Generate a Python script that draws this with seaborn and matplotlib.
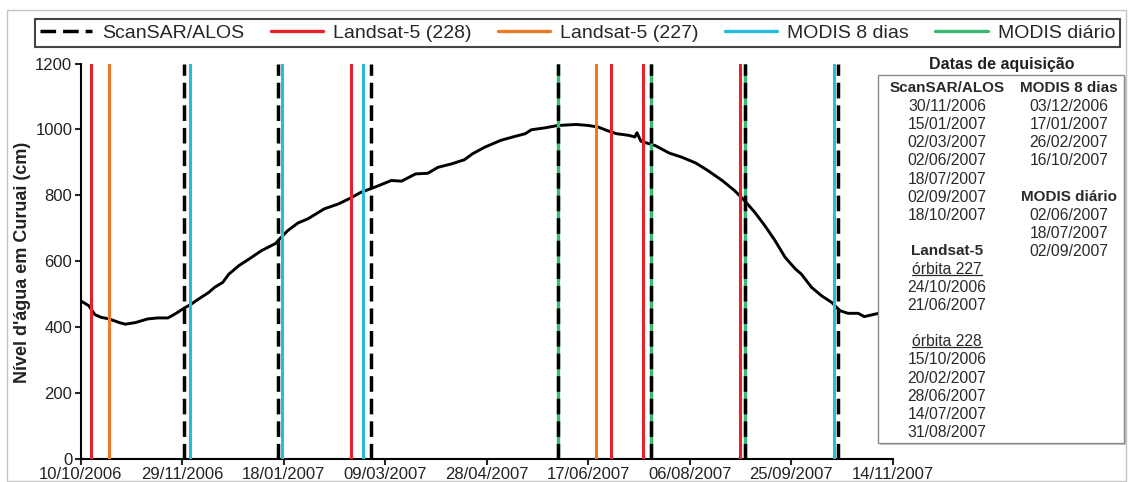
import numpy as np
import pandas as pd
import matplotlib
matplotlib.use("Agg")
import matplotlib.pyplot as plt
import matplotlib.dates as mdates
from matplotlib.lines import Line2D
from matplotlib.patches import Rectangle
import seaborn as sns

# ---------------- data ----------------
start_date = "2006-10-10"
end_date = "2007-11-14"
level_day = [0, 4, 7, 10, 14, 19, 22, 27, 33, 38, 43, 47, 51, 54, 58, 63, 66, 70, 73, 78,
             83, 89, 96, 98, 102, 107, 112, 120, 127, 133, 138, 145, 153, 158, 165, 171, 176, 183, 189, 193,
             199, 207, 214, 219, 222, 229, 235, 244, 250, 255, 260, 264, 270, 273, 274, 276, 283, 290, 296, 303,
             309, 316, 322, 327, 332, 337, 342, 347, 352, 355, 360, 365, 370, 374, 378, 383, 386, 393, 397]
level_cm = [480, 465, 438, 430, 425, 414, 409, 414, 425, 428, 428, 442, 458, 468, 485, 505, 521, 536, 561, 587,
            607, 632, 654, 668, 693, 716, 729, 759, 774, 792, 809, 825, 845, 843, 865, 867, 885, 896, 908, 926,
            946, 967, 979, 987, 999, 1005, 1012, 1015, 1012, 1007, 995, 987, 982, 977, 990, 964, 951, 928, 916, 898,
            875, 845, 815, 784, 749, 708, 663, 612, 577, 561, 521, 495, 475, 450, 442, 442, 432, 442, 440]

scansar = ["30/11/2006", "15/01/2007", "02/03/2007", "02/06/2007", "18/07/2007", "02/09/2007", "18/10/2007"]
landsat_227 = ["24/10/2006", "21/06/2007"]
landsat_228 = ["15/10/2006", "20/02/2007", "28/06/2007", "14/07/2007", "31/08/2007"]
modis_8dias = ["03/12/2006", "17/01/2007", "26/02/2007", "16/10/2007"]
modis_diario = ["02/06/2007", "18/07/2007", "02/09/2007"]

series_labels = ["ScanSAR/ALOS", "Landsat-5 (228)", "Landsat-5 (227)", "MODIS 8 dias", "MODIS diário"]
y_ticks = [0, 200, 400, 600, 800, 1000, 1200]
y_label = "Nível d'água em Curuai (cm)"
table_title = "Datas de aquisição"

# ---------------- style ----------------
sns.set_style("ticks")
plt.rcParams["font.family"] = ["Liberation Sans", "DejaVu Sans"]

C_RED = "#e8202a"
C_ORANGE = "#ec7a25"
C_CYAN = "#27bcdc"
C_GREEN = "#3db873"
DASH = (0, (4.5, 2.0))

W, H = 1131, 482
fig = plt.figure(figsize=(W / 100, H / 100), dpi=100)
fig.patch.set_facecolor("white")

def fx(x):
    return x / W

def fy(y):
    return 1 - y / H

ax = fig.add_axes([fx(80.7), fy(459), 812 / W, 395.5 / H])

t0 = pd.Timestamp(start_date)
df = pd.DataFrame({"date": t0 + pd.to_timedelta(level_day, unit="D"), "nivel": level_cm})
sns.lineplot(data=df, x="date", y="nivel", ax=ax, color="black", lw=2.1, zorder=2)

def to_dt(lst):
    return pd.to_datetime(lst, format="%d/%m/%Y")

for d in to_dt(landsat_228):
    ax.axvline(d, color=C_RED, lw=2.2, zorder=3)
for d in to_dt(landsat_227):
    ax.axvline(d, color=C_ORANGE, lw=2.2, zorder=3)
for d in to_dt(modis_8dias):
    ax.axvline(d, color=C_CYAN, lw=2.2, zorder=3)
for d in to_dt(modis_diario):
    ax.axvline(d, color=C_GREEN, lw=2.4, zorder=3)
for d in to_dt(scansar):
    ax.axvline(d, color="black", lw=2.5, ls=DASH, zorder=4)

ax.set_xlim(t0, pd.Timestamp(end_date))
ax.set_ylim(0, 1200)
ax.set_yticks(y_ticks)
ax.set_xticks(pd.date_range(start_date, end_date, freq="50D"))
ax.xaxis.set_major_formatter(mdates.DateFormatter("%d/%m/%Y"))
ax.set_xlabel("")
ax.set_ylabel("")
sns.despine(ax=ax)
for s in ["left", "bottom"]:
    ax.spines[s].set_linewidth(1.5)
    ax.spines[s].set_color("black")
ax.tick_params(direction="out", length=4, width=1.5, labelsize=12, labelcolor="#222222", pad=2)

fig.text(fx(23), fy(262), y_label, rotation=90, ha="center", va="center",
         fontsize=13, fontweight="bold", color="#222222")

# ---------------- legend ----------------
handles = [
    Line2D([], [], color="black", lw=2.5, ls=DASH),
    Line2D([], [], color=C_RED, lw=2.4),
    Line2D([], [], color=C_ORANGE, lw=2.4),
    Line2D([], [], color=C_CYAN, lw=2.4),
    Line2D([], [], color=C_GREEN, lw=2.4),
]
leg = fig.legend(handles, series_labels, loc="center", ncol=5, mode="expand",
                 bbox_to_anchor=(fx(35), fy(48), 1085 / W, 30 / H),
                 fontsize=14, frameon=True, fancybox=False, framealpha=1,
                 edgecolor="#444444", borderpad=0.25, handlelength=2.7,
                 handletextpad=0.5, columnspacing=1.0, borderaxespad=0)
leg.get_frame().set_linewidth(1.5)

# ---------------- outer frame ----------------
fig.add_artist(Rectangle((fx(7), fy(481)), 1119 / W, 471 / H, transform=fig.transFigure,
                         fill=False, edgecolor="#c4c4c4", lw=1, zorder=0))

# ---------------- acquisition table ----------------
bx0, by0, bx1, by1 = 878, 75, 1124, 443
fig.add_artist(Rectangle((fx(bx0 + 2), fy(by1 + 2)), (bx1 - bx0) / W, (by1 - by0) / H,
                         transform=fig.transFigure, facecolor="#c8c8c8", edgecolor="none", zorder=5))
fig.add_artist(Rectangle((fx(bx0), fy(by1)), (bx1 - bx0) / W, (by1 - by0) / H,
                         transform=fig.transFigure, facecolor="white", edgecolor="#8a8a8a", lw=1, zorder=6))
fig.text(fx(1002), fy(64), table_title, ha="center", va="center", fontsize=11.5,
         fontweight="bold", color="#222222", zorder=7)

col1 = [("ScanSAR/ALOS", "b")] + [(d, "n") for d in scansar] + [None] \
    + [("Landsat-5", "b"), ("órbita 227", "u")] + [(d, "n") for d in landsat_227] + [None] \
    + [("órbita 228", "u")] + [(d, "n") for d in landsat_228]
col2 = [("MODIS 8 dias", "b")] + [(d, "n") for d in modis_8dias] + [None] \
    + [("MODIS diário", "b")] + [(d, "n") for d in modis_diario]

row0, pitch = 88.5, 18.1
underlined = []
for cx, col in [(947, col1), (1069, col2)]:
    for i, item in enumerate(col):
        if item is None:
            continue
        txt, kind = item
        t = fig.text(fx(cx), fy(row0 + i * pitch), txt, ha="center", va="center",
                     fontsize=11.0 if kind == "b" else 11.3,
                     fontweight="bold" if kind == "b" else "normal",
                     color="#2a2a2a", zorder=7)
        if kind == "u":
            underlined.append(t)

fig.canvas.draw()
for t in underlined:
    bb = t.get_window_extent()
    yy = (bb.y0 + 2.0) / fig.bbox.height
    fig.add_artist(Line2D([bb.x0 / fig.bbox.width, bb.x1 / fig.bbox.width], [yy, yy],
                          transform=fig.transFigure, color="#2a2a2a", lw=0.9, zorder=7))

fig.savefig("out.png", dpi=100)
